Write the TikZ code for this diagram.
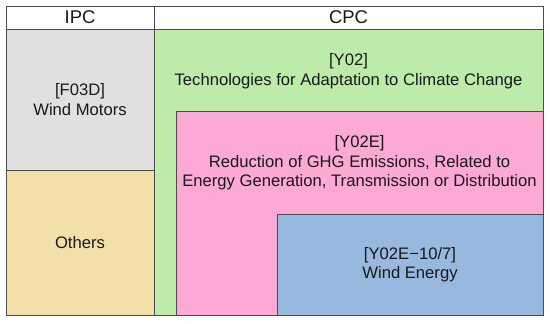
\documentclass[tikz,border=0pt]{standalone}
\usepackage{fontspec}
\setmainfont{Liberation Sans}
\begin{document}
\begin{tikzpicture}[x=1bp,y=-1bp,
  cell/.style={draw=black!70, line width=0.9bp, anchor=north west, inner sep=0pt, outer sep=0pt},
  lbl/.style={align=center, font=\fontsize{16.7}{19.5}\selectfont, text=black!90},
  hdr/.style={font=\fontsize{18.5}{20}\selectfont, text=black!90}]
\definecolor{gbox}{HTML}{E0E0E0}
\definecolor{tbox}{HTML}{F3DFA9}
\definecolor{grbox}{HTML}{BCEBAA}
\definecolor{pbox}{HTML}{FDA9D6}
\definecolor{bbox}{HTML}{98B8E0}
\useasboundingbox (0,0) rectangle (550,323);
% header
\node[cell, fill=white, minimum width=148bp, minimum height=23bp] (hipc) at (6,6) {};
\node[cell, fill=white, minimum width=389bp, minimum height=23bp] (hcpc) at (154,6) {};
\node[hdr] (tipc) at (hipc.center) {IPC};
\node[hdr] (tcpc) at (hcpc.center) {CPC};
% IPC column
\node[cell, fill=gbox, minimum width=148bp, minimum height=141bp] (f03d) at (6,29) {};
\node[cell, fill=tbox, minimum width=148bp, minimum height=145bp] (oth) at (6,170) {};
\node[lbl] (tf03d) at (f03d.center) {[F03D]\\Wind Motors};
\node[lbl] (toth) at (oth.center) {Others};
% CPC column
\node[cell, fill=grbox, minimum width=389bp, minimum height=286bp] (y02) at (154,29) {};
\node[cell, fill=pbox, minimum width=367bp, minimum height=204bp] (y02e) at (176,111) {};
\node[cell, fill=bbox, minimum width=266bp, minimum height=101bp] (wind) at (277,214) {};
\node[lbl] (ty02) at (348.5,71) {[Y02]\\Technologies for Adaptation to Climate Change};
\node[lbl] (ty02e) at (359.5,163) {[Y02E]\\Reduction of GHG Emissions, Related to\\Energy Generation, Transmission or Distribution};
\node[lbl] (twind) at (wind.center) {[Y02E−10/7]\\Wind Energy};
\end{tikzpicture}
\end{document}
